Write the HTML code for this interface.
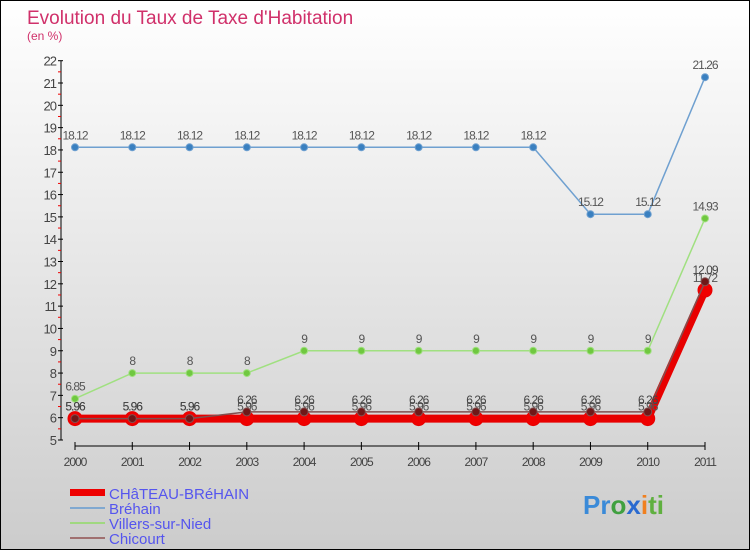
<!DOCTYPE html>
<html><head><meta charset="utf-8"><style>
body{margin:0;width:750px;height:550px;overflow:hidden;font-family:"Liberation Sans",sans-serif}
svg text{font-family:"Liberation Sans",sans-serif}
</style></head><body>
<svg id="chart" width="750" height="550" xmlns="http://www.w3.org/2000/svg">
<defs><linearGradient id="bg" x1="0" y1="0" x2="0" y2="1"><stop offset="0" stop-color="#ffffff"/><stop offset="1" stop-color="#cccccc"/></linearGradient></defs>
<rect x="0.5" y="0.5" width="749" height="549" fill="url(#bg)" stroke="#000"/>
<text x="27" y="24" font-size="19" fill="#d0306a">Evolution du Taux de Taxe d'Habitation</text>
<text x="27" y="40" font-size="12" fill="#d0306a">(en %)</text>
<g id="axes"></g><g id="series"></g>
<g>
<rect x="70" y="489" width="35" height="7" fill="#e00"/>
<line x1="70" y1="508" x2="105" y2="508" stroke="#80a8d0" stroke-width="2"/>
<line x1="70" y1="523" x2="105" y2="523" stroke="#a0d880" stroke-width="2"/>
<line x1="70" y1="538" x2="105" y2="538" stroke="#a07070" stroke-width="2"/>
<text x="109" y="499" font-size="15" fill="#5555ee">CHâTEAU-BRéHAIN</text>
<text x="109" y="514" font-size="15" fill="#5555ee">Bréhain</text>
<text x="109" y="529" font-size="15" fill="#5555ee">Villers-sur-Nied</text>
<text x="109" y="544" font-size="15" fill="#5555ee">Chicourt</text>
</g>
<text x="583" y="514" font-size="26" font-weight="bold"><tspan fill="#3a8ad8">Pr</tspan><tspan fill="#40a040">o</tspan><tspan fill="#2a6ad0">x</tspan><tspan fill="#f08020">i</tspan><tspan fill="#60b040">ti</tspan></text>
</svg>
<script>
const years=["2000","2001","2002","2003","2004","2005","2006","2007","2008","2009","2010","2011"];
const chateau=[5.96,5.96,5.96,5.96,5.96,5.96,5.96,5.96,5.96,5.96,5.96,11.72];
const brehain=[18.12,18.12,18.12,18.12,18.12,18.12,18.12,18.12,18.12,15.12,15.12,21.26];
const villers=[6.85,8,8,8,9,9,9,9,9,9,9,14.93];
const chicourt=[5.96,5.96,5.96,6.26,6.26,6.26,6.26,6.26,6.26,6.26,6.26,12.09];
const yTicks=[5,6,7,8,9,10,11,12,13,14,15,16,17,18,19,20,21,22];
const NS="http://www.w3.org/2000/svg";
const x=i=>75+i*(630/(years.length-1));
const y=v=>440-(v-5)*(379.3/17);
function mk(t,a,p){const e=document.createElementNS(NS,t);for(const k in a)e.setAttribute(k,a[k]);p.appendChild(e);return e;}
const ax=document.getElementById('axes');
let e=mk('line',{x1:61,y1:y(22),x2:61,y2:y(5),stroke:'#000'},ax);


yTicks.forEach(v=>{
 const t=mk('line',{x1:58,y1:y(v),x2:63,y2:y(v),stroke:'#000'},ax);
 
 
 if(v<22){const m=mk('line',{x1:58,y1:y(v+0.5),x2:61,y2:y(v+0.5),stroke:'#e00'},ax);
 
 }
 const l=mk('text',{x:56,y:y(v)+5,'font-size':13,fill:'#444','text-anchor':'end','letter-spacing':'-1'},ax);
 
 
 l.textContent=v;
});
e=mk('line',{x1:x(0),y1:446,x2:x(years.length-1),y2:446,stroke:'#000'},ax);


years.forEach((yr,i)=>{
 const t=mk('line',{x1:x(i),y1:442,x2:x(i),y2:450,stroke:'#000'},ax);
 
 
 const l=mk('text',{x:x(i),y:466,'font-size':12,fill:'#444','text-anchor':'middle','letter-spacing':'-1'},ax);
 
 
 l.textContent=yr;
});
const sg=document.getElementById('series');
function series(name,vals,color,w,r,dot,labColor){
 const g=mk('g',{},sg);
 
 
 const p=mk('polyline',{points:vals.map((v,i)=>x(i)+','+y(v)).join(' '),fill:'none',stroke:color,'stroke-width':w},g);
 
 
 vals.forEach((v,i)=>{
  const c=mk('circle',{cx:x(i),cy:y(v),r:r,fill:dot,stroke:color,'stroke-width':1},g);
  
  
  const t=mk('text',{x:x(i),y:y(v)-8,'font-size':12,fill:labColor,'text-anchor':'middle','letter-spacing':'-1'},g);
  
  
  t.textContent=v;
 });
}
series('brehain',brehain,'#6fa0d0',1.5,3.5,'#3a80c0','#555');
series('villers',villers,'#a0e080',1.5,3.5,'#70c840','#555');
series('chateau',chateau,'#e80000',8,7,'#f00000','#555');
series('chicourt',chicourt,'#805050',1.5,4,'#701818','#444');
</script>
</body></html>
